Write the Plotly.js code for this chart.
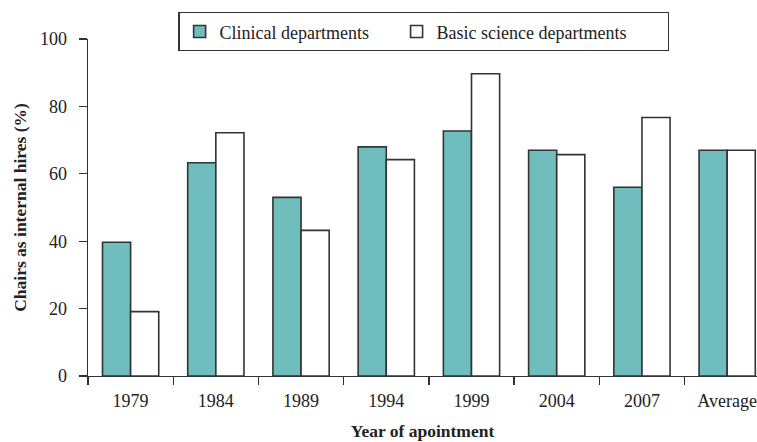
<!DOCTYPE html>
<html>
<head>
<meta charset="utf-8">
<script src="https://cdn.plot.ly/plotly-3.0.1.min.js"></script>
<style>html,body{margin:0;padding:0;background:#fff;}#chart{width:757px;height:442px;}</style>
</head>
<body>
<div id="chart"></div>
<script>
const categories = ["1979", "1984", "1989", "1994", "1999", "2004", "2007", "Average"];
const clinical = [39.7, 63.3, 53, 68, 72.7, 67, 56, 67];
const basicScience = [19.1, 72.2, 43.2, 64.2, 89.7, 65.7, 76.7, 67];
const seriesNames = ["Clinical departments", "Basic science departments"];
const yTicks = [0, 20, 40, 60, 80, 100];

const font = "Liberation Serif, Times New Roman, serif";
const lineCol = "#333333";
const textCol = "#222222";
const pad = n => "&nbsp;".repeat(n);

const traces = [
  {type: "bar", x: categories, y: clinical, name: seriesNames[0] + pad(5),
   marker: {color: "#6fbdbd", line: {color: lineCol, width: 1.6}}},
  {type: "bar", x: categories, y: basicScience, name: seriesNames[1] + pad(8),
   marker: {color: "#ffffff", line: {color: lineCol, width: 1.6}}}
];

const layout = {
  width: 757, height: 442,
  margin: {l: 88, r: 0, t: 39, b: 66},
  paper_bgcolor: "#fff", plot_bgcolor: "#fff",
  font: {family: font, size: 18, color: textCol},
  barmode: "group",
  bargap: 0.34, bargroupgap: 0,
  showlegend: true,
  legend: {orientation: "h", x: 0.135, xanchor: "left", y: 1.08, yanchor: "top",
    bordercolor: "#333", borderwidth: 1.3, bgcolor: "#fff",
    font: {family: font, size: 18, color: textCol},
    traceorder: "normal"},
  xaxis: {
    type: "category", range: [-0.5, 7.35],
    showline: true, linecolor: lineCol, linewidth: 1.3,
    ticks: "outside", tickson: "boundaries", ticklen: 8, tickcolor: lineCol, tickwidth: 1.3,
    showgrid: false, zeroline: false, ticklabelstandoff: 8,
    tickfont: {family: font, size: 18, color: textCol},
    title: {text: "<b>Year of apointment</b>", font: {family: font, size: 17.5, color: textCol}, standoff: 14}
  },
  yaxis: {
    range: [0, 100], tickvals: yTicks, ticktext: yTicks.map(String),
    showline: true, linecolor: lineCol, linewidth: 1.3,
    ticks: "outside", ticklen: 8, tickcolor: lineCol, tickwidth: 1.3,
    showgrid: false, zeroline: false, ticklabelstandoff: 8,
    tickfont: {family: font, size: 18, color: textCol},
    title: {text: "<b>Chairs as internal hires (%)</b>", font: {family: font, size: 17.5, color: textCol}, standoff: 9}
  }
};

Plotly.newPlot("chart", traces, layout, {displayModeBar: false, staticPlot: true});
</script>
</body>
</html>
